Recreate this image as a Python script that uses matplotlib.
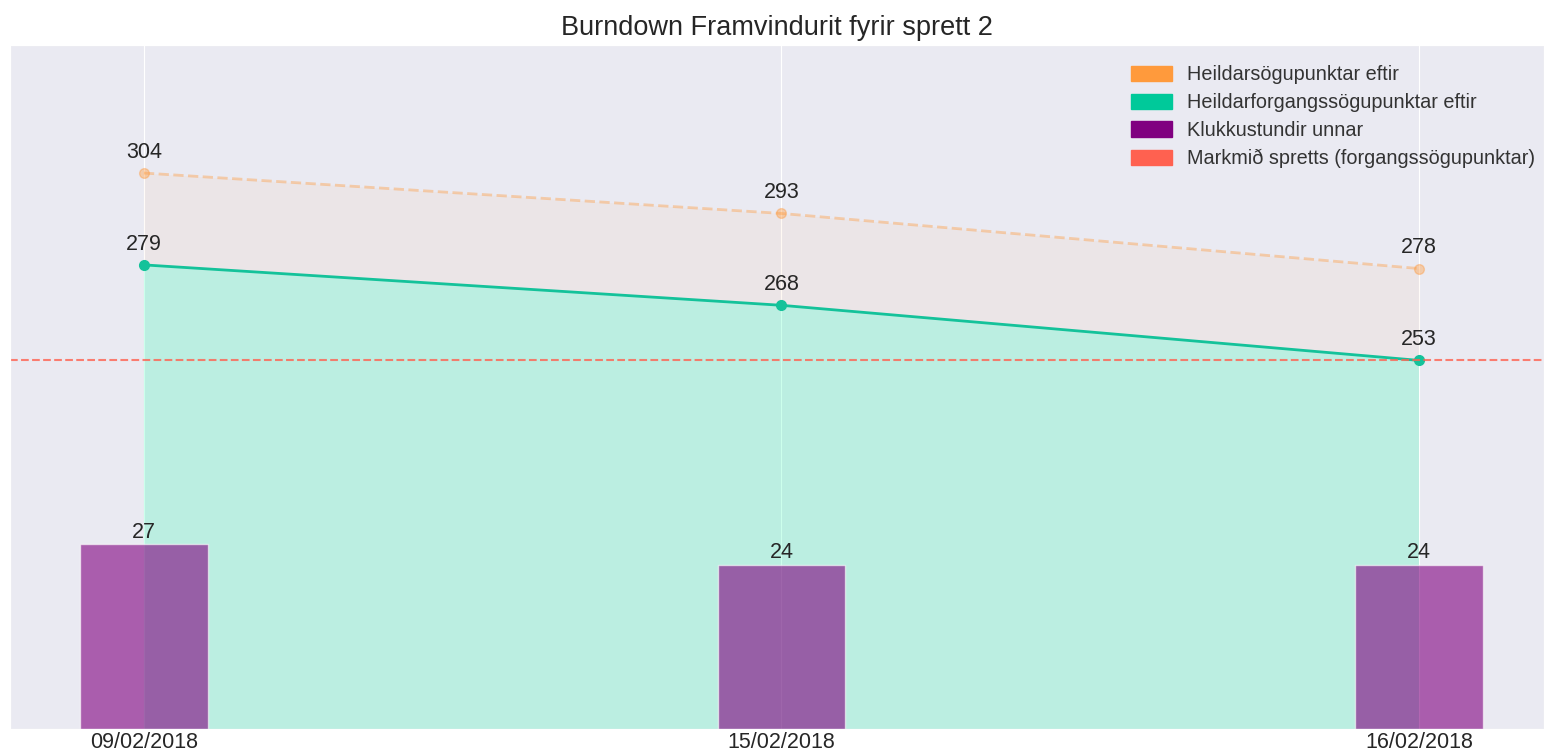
import numpy as np
import matplotlib.pyplot as plt
import seaborn as sns

dates = ["09/02/2018", "15/02/2018", "16/02/2018"]
total_points = [304, 293, 278]
priority_points = [279, 268, 253]
hours_worked = [27, 24, 24]
sprint_goal = 253

sns.set_style("darkgrid")
plt.rcParams["font.family"] = ["Liberation Sans", "DejaVu Sans"]

orange = "#FF9A3C"
green = "#00C99A"
purple = "#800080"
red = "#FF6150"

fig = plt.figure(figsize=(15.44, 7.53), dpi=100)
ax = fig.add_axes([0.0065, 0.032, 0.9935, 0.908])
x = np.arange(len(dates))

ax.plot(x, total_points, "o--", color=orange, alpha=0.4, lw=2, ms=7)
ax.fill_between(x, priority_points, total_points, color=orange, alpha=0.06, lw=0)
ax.plot(x, priority_points, "o-", color="#14C29A", lw=2, ms=7)
ax.fill_between(x, 0, priority_points, color="#00FFA0", alpha=0.2, lw=0)
ax.axhline(sprint_goal, color=red, ls="--", lw=1.5, alpha=0.8)

for xi, v in zip(x, total_points):
    ax.annotate(str(v), (xi, v), xytext=(0, 11), textcoords="offset points",
                ha="center", fontsize=15.5, color="#262626")
for xi, v in zip(x, priority_points):
    ax.annotate(str(v), (xi, v), xytext=(0, 11), textcoords="offset points",
                ha="center", fontsize=15.5, color="#262626")

ax.set_xlim(-0.21, 2.196)
ax.set_ylim(152.7, 338.8)
ax.set_yticks([])
ax.set_xticks(x)
ax.set_xticklabels(dates, fontsize=15.5, color="#262626")
ax.tick_params(axis="x", pad=-1)
ax.grid(axis="y", visible=False)

# hours on a second scale, drawn on top of the fills
ax2 = ax.twinx()
ax2.bar(x, hours_worked, width=0.2, color=purple, alpha=0.6)
for xi, v in zip(x, hours_worked):
    ax2.text(xi, v + 0.2, str(v), ha="center", va="bottom", fontsize=15.5, color="#262626")
ax2.set_ylim(0, 100)
ax2.set_yticks([])
ax2.grid(False)

handles = [plt.Rectangle((0, 0), 1, 1, color=c) for c in [orange, green, purple, red]]
labels = ["Heildarsögupunktar eftir", "Heildarforgangssögupunktar eftir",
          "Klukkustundir unnar", "Markmið spretts (forgangssögupunktar)"]
ax2.legend(handles, labels, loc="upper right", fontsize=14.3, frameon=False,
           handlelength=2.1, handleheight=0.8, handletextpad=0.75, labelspacing=0.45,
           bbox_to_anchor=(1.006, 0.997), labelcolor="#333333")

ax.set_title("Burndown Framvindurit fyrir sprett 2", fontsize=19.5, color="#262626", pad=7)

fig.savefig("out.png", dpi=100)
